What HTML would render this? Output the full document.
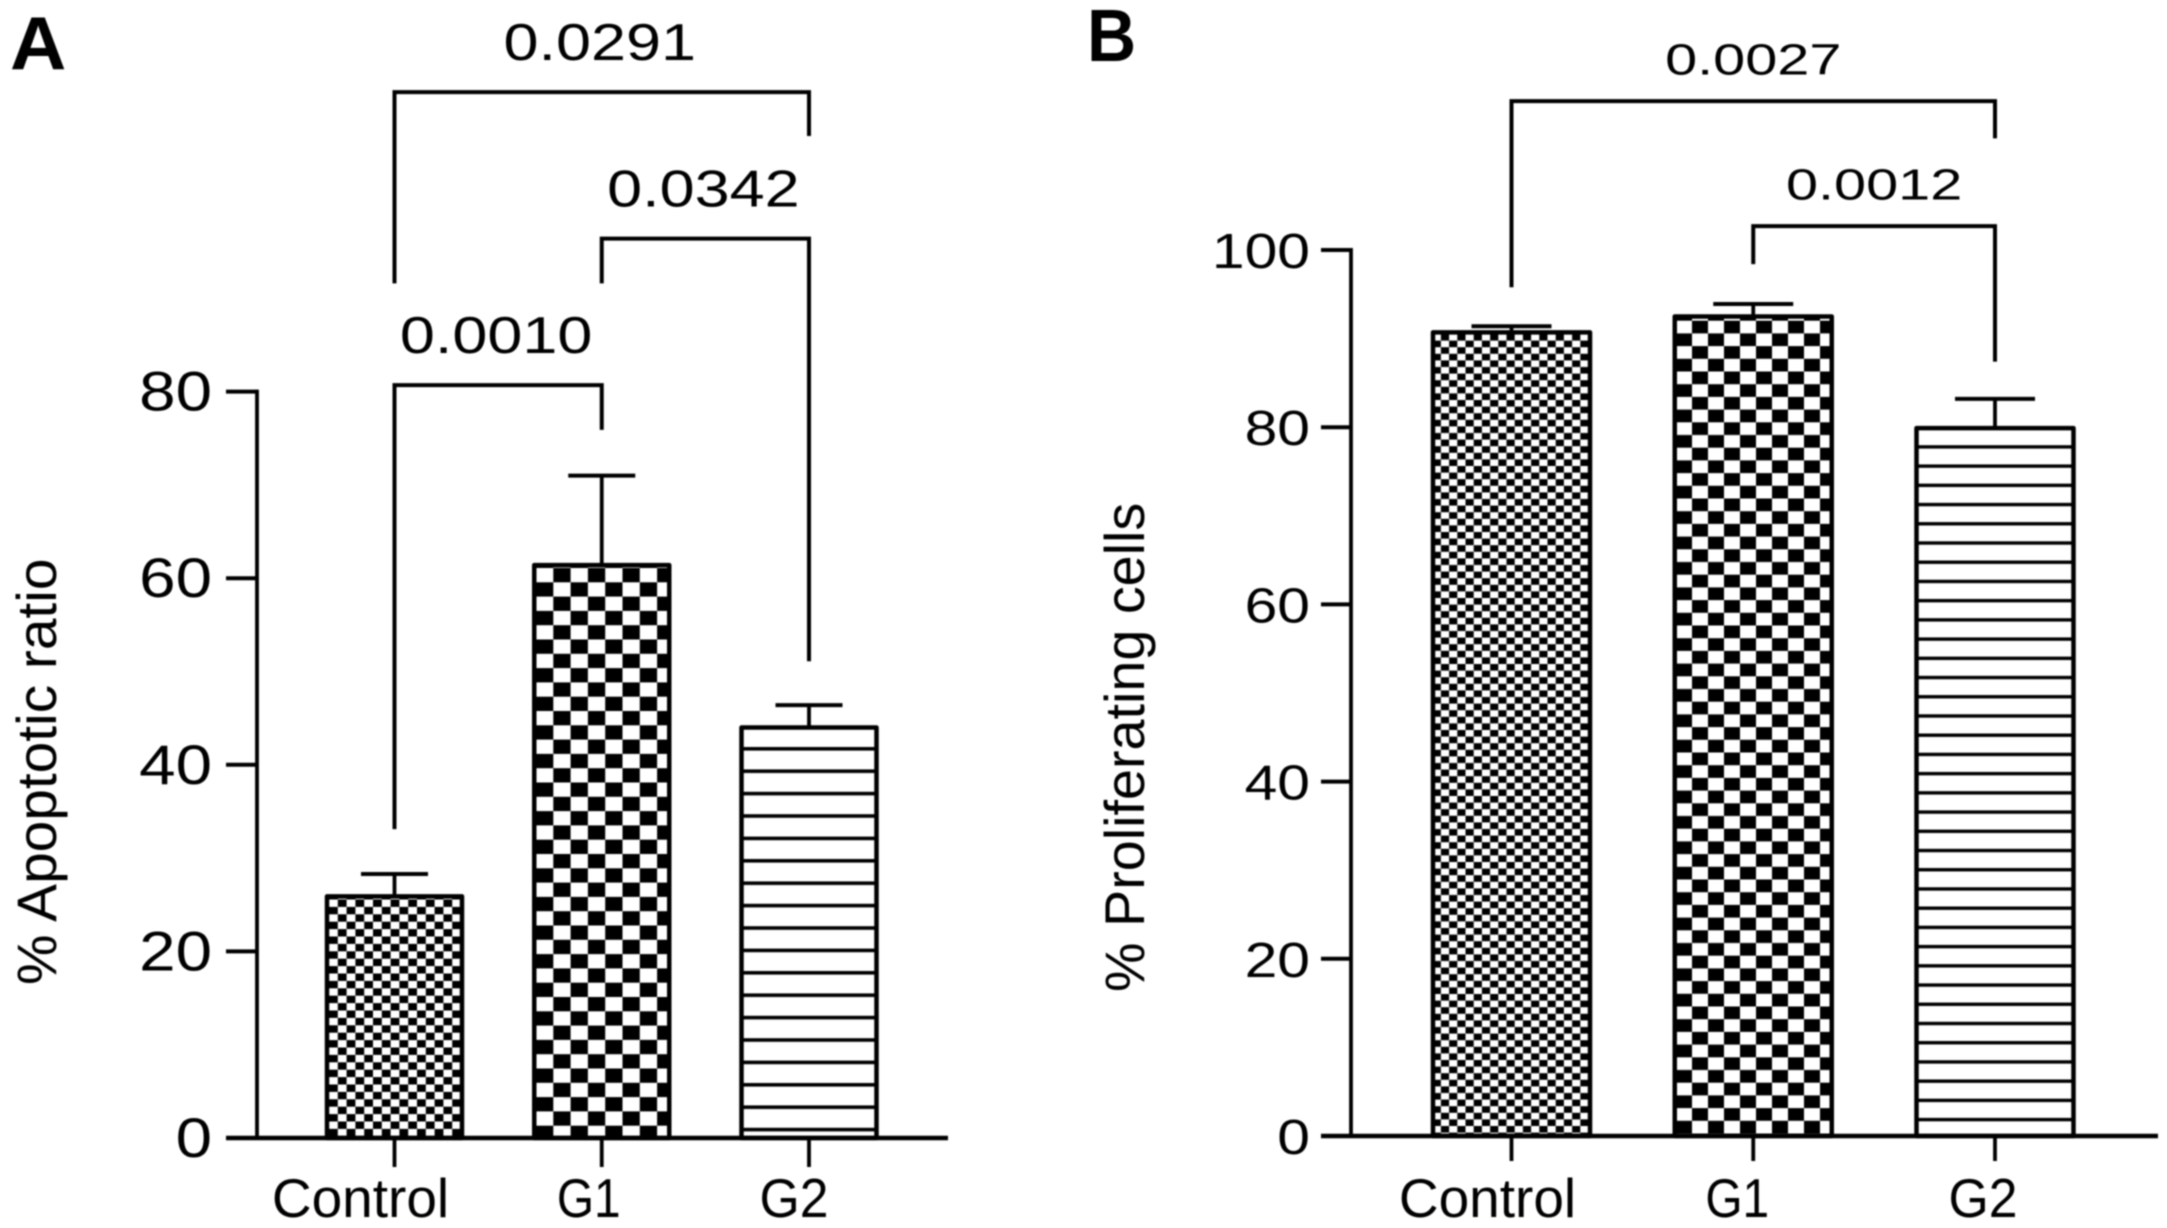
<!DOCTYPE html>
<html lang="en">
<head>
<meta charset="utf-8">
<title>Apoptotic ratio and proliferating cells</title>
<style>
html,body{margin:0;padding:0;background:#fff;}
#figure{display:block;width:2167px;height:1228px;background:#fff;filter:blur(0.7px);font-family:"Liberation Sans",sans-serif;}
</style>
</head>
<body>
<svg id="figure" xmlns="http://www.w3.org/2000/svg" width="2167" height="1228" viewBox="0 0 2167 1228">
  <defs>
    <pattern id="a-control" patternUnits="userSpaceOnUse" x="329" y="899.5" width="17.6" height="14.8">
      <rect width="17.6" height="14.8" fill="#fff"/><rect x="8.8" width="8.8" height="7.4" fill="#000"/><rect y="7.4" width="8.8" height="7.4" fill="#000"/>
    </pattern>
    <pattern id="a-g1" patternUnits="userSpaceOnUse" x="536" y="568" width="34.6" height="28.6">
      <rect width="34.6" height="28.6" fill="#fff"/><rect x="17.3" width="17.3" height="14.3" fill="#000"/><rect y="14.3" width="17.3" height="14.3" fill="#000"/>
    </pattern>
    <pattern id="a-g2" patternUnits="userSpaceOnUse" x="700" y="747" width="40" height="22.4">
      <rect width="40" height="22.4" fill="#fff"/><rect width="40" height="3.6" fill="#000"/>
    </pattern>
    <pattern id="b-control" patternUnits="userSpaceOnUse" x="1432.7" y="334" width="16.4" height="13.2">
      <rect width="16.4" height="13.2" fill="#fff"/><rect x="8.2" width="8.2" height="6.6" fill="#000"/><rect y="6.6" width="8.2" height="6.6" fill="#000"/>
    </pattern>
    <pattern id="b-g1" patternUnits="userSpaceOnUse" x="1676" y="320.7" width="32" height="25.4">
      <rect width="32" height="25.4" fill="#fff"/><rect x="16" width="16" height="12.7" fill="#000"/><rect y="12.7" width="16" height="12.7" fill="#000"/>
    </pattern>
    <pattern id="b-g2" patternUnits="userSpaceOnUse" x="1900" y="445.2" width="40" height="19.22">
      <rect width="40" height="19.22" fill="#fff"/><rect width="40" height="3.4" fill="#000"/>
    </pattern>
  </defs>
</svg>
<script>
// ---------- data ----------
const categories = ['Control', 'G1', 'G2'];

const apoptoticValues = [25.9, 61.4, 44.0];
const apoptoticErrors = [2.4, 9.6, 2.4];
const apoptoticTicks = [0, 20, 40, 60, 80];
const apoptoticPLabels = ['0.0291', '0.0342', '0.0010'];
const apoptoticFrom = [0, 1, 0];
const apoptoticTo = [2, 2, 1];
const apoptoticLevels = [112.1, 96.4, 80.7];
const apoptoticFromEnds = [91.6, 91.6, 33.1];
const apoptoticToEnds = [107.4, 51.1, 75.9];

const proliferatingValues = [90.7, 92.5, 79.9];
const proliferatingErrors = [0.7, 1.4, 3.3];
const proliferatingTicks = [0, 20, 40, 60, 80, 100];
const proliferatingPLabels = ['0.0027', '0.0012'];
const proliferatingFrom = [0, 1];
const proliferatingTo = [2, 2];
const proliferatingLevels = [116.8, 102.7];
const proliferatingFromEnds = [95.8, 98.4];
const proliferatingToEnds = [112.6, 87.4];

// ---------- drawing ----------
const NS = 'http://www.w3.org/2000/svg';
const svg = document.getElementById('figure');

function mk(tag, attrs, parent) {
  const el = document.createElementNS(NS, tag);
  for (const k in attrs) el.setAttribute(k, attrs[k]);
  parent.appendChild(el);
  return el;
}
function label(str, x, y, size, sx, anchor, parent, weight) {
  const el = mk('text', {
    transform: 'translate(' + x + ',' + y + ') scale(' + sx + ',1)',
    'font-size': size,
    'text-anchor': anchor,
    'font-weight': weight || 'normal',
    fill: '#000'
  }, parent);
  el.textContent = str;
  return el;
}
function line(x1, y1, x2, y2, w, parent) {
  return mk('line', {x1: x1, y1: y1, x2: x2, y2: y2, stroke: '#000', 'stroke-width': w}, parent);
}

function drawPanel(p) {
  const yScale = v => p.y0 - v * p.yUnit;
  const xScale = i => p.x0 + i * p.xStep;

  const g = mk('g', {}, svg);
  
  

  const letter = label(p.letter, p.letterX, p.letterY, p.letterSize, p.letterSx, 'start', g, 'bold');
  
  

  // bars and error bars
  p.values.forEach((v, i) => {
    const top = yScale(v);
    const bar = mk('rect', {
      x: xScale(i) - p.barW / 2, y: top, width: p.barW, height: p.y0 - top,
      fill: 'url(#' + p.id + '-' + p.patterns[i] + ')', stroke: '#000',
      'stroke-width': 4.5, 'stroke-linejoin': 'round'
    }, g);
    
    

    const capY = yScale(v + p.errors[i]);
    const stem = line(xScale(i), top, xScale(i), capY, 3.8, g);
    
    

    const cap = line(xScale(i) - p.capHalf, capY, xScale(i) + p.capHalf, capY, 4, g);
    
    
  });

  // y axis
  const yAxis = line(p.axisX, yScale(p.ticks[p.ticks.length - 1]) - 2, p.axisX, p.y0, 3.8, g);
  
  

  p.ticks.forEach(t => {
    const tick = line(p.tickLeft, yScale(t), p.axisX, yScale(t), 4, g);
    
    

    const tl = label(String(t), p.tickLabelX, yScale(t) + p.tickLabelDy, p.tickSize, p.tickSx, 'end', g);
    
    
  });

  // x axis
  const xAxis = line(p.tickLeft, p.y0, p.axisRight, p.y0, 4.6, g);
  
  

  categories.forEach((c, i) => {
    const tick = line(xScale(i), p.y0, xScale(i), p.xTickBottom, 3.8, g);
    
    

    const tl = label(c, xScale(i) + p.catDx[i], 1217, p.catSize, p.catSx[i], 'middle', g);
    
    
  });

  // y axis title
  const title = mk('text', {
    transform: 'translate(' + p.titleX + ',' + p.titleY + ') rotate(-90) scale(' + p.titleSx + ',1)',
    'font-size': p.titleSize, fill: '#000'
  }, g);
  title.textContent = p.title;
  
  

  // significance brackets
  p.pLabels.forEach((txt, i) => {
    const xa = xScale(p.from[i]), xb = xScale(p.to[i]), yL = yScale(p.levels[i]);
    const br = mk('polyline', {
      points: xa + ',' + yScale(p.fromEnds[i]) + ' ' + xa + ',' + yL + ' ' + xb + ',' + yL + ' ' + xb + ',' + yScale(p.toEnds[i]),
      fill: 'none', stroke: '#000', 'stroke-width': 4
    }, g);
    
    

    const pt = label(txt, (xa + xb) / 2 + p.pDx, yL - p.pGap, p.pSize, p.pSx, 'middle', g);
    
    
  });
}

drawPanel({
  id: 'a', letter: 'A', letterX: 10, letterY: 69, letterSize: 75, letterSx: 1.04,
  values: apoptoticValues, errors: apoptoticErrors, ticks: apoptoticTicks,
  pLabels: apoptoticPLabels, from: apoptoticFrom, to: apoptoticTo,
  levels: apoptoticLevels, fromEnds: apoptoticFromEnds, toEnds: apoptoticToEnds,
  patterns: ['control', 'g1', 'g2'],
  y0: 1138, yUnit: 9.33, x0: 394.5, xStep: 207.25, barW: 135, capHalf: 33.5,
  axisX: 257, tickLeft: 226, axisRight: 948, xTickBottom: 1167,
  tickLabelX: 212, tickLabelDy: 19, tickSize: 56, tickSx: 1.17,
  catDx: [-34, -13, -15], catSize: 55, catSx: [1.0, 0.87, 0.94],
  title: '% Apoptotic ratio', titleX: 56, titleY: 985, titleSize: 56, titleSx: 1.015,
  pGap: 32, pSize: 52, pSx: 1.21, pDx: -2
});

drawPanel({
  id: 'b', letter: 'B', letterX: 1087, letterY: 61, letterSize: 74, letterSx: 0.92,
  values: proliferatingValues, errors: proliferatingErrors, ticks: proliferatingTicks,
  pLabels: proliferatingPLabels, from: proliferatingFrom, to: proliferatingTo,
  levels: proliferatingLevels, fromEnds: proliferatingFromEnds, toEnds: proliferatingToEnds,
  patterns: ['control', 'g1', 'g2'],
  y0: 1136, yUnit: 8.86, x0: 1511.5, xStep: 241.75, barW: 157, capHalf: 40,
  axisX: 1351, tickLeft: 1321, axisRight: 2158, xTickBottom: 1161,
  tickLabelX: 1310, tickLabelDy: 18, tickSize: 49, tickSx: 1.2,
  catDx: [-24, -16, -12], catSize: 55, catSx: [1.0, 0.87, 0.94],
  title: '% Proliferating cells', titleX: 1144, titleY: 992, titleSize: 56, titleSx: 0.995,
  pGap: 26.5, pSize: 44, pSx: 1.31, pDx: 0
});
</script>
</body>
</html>
